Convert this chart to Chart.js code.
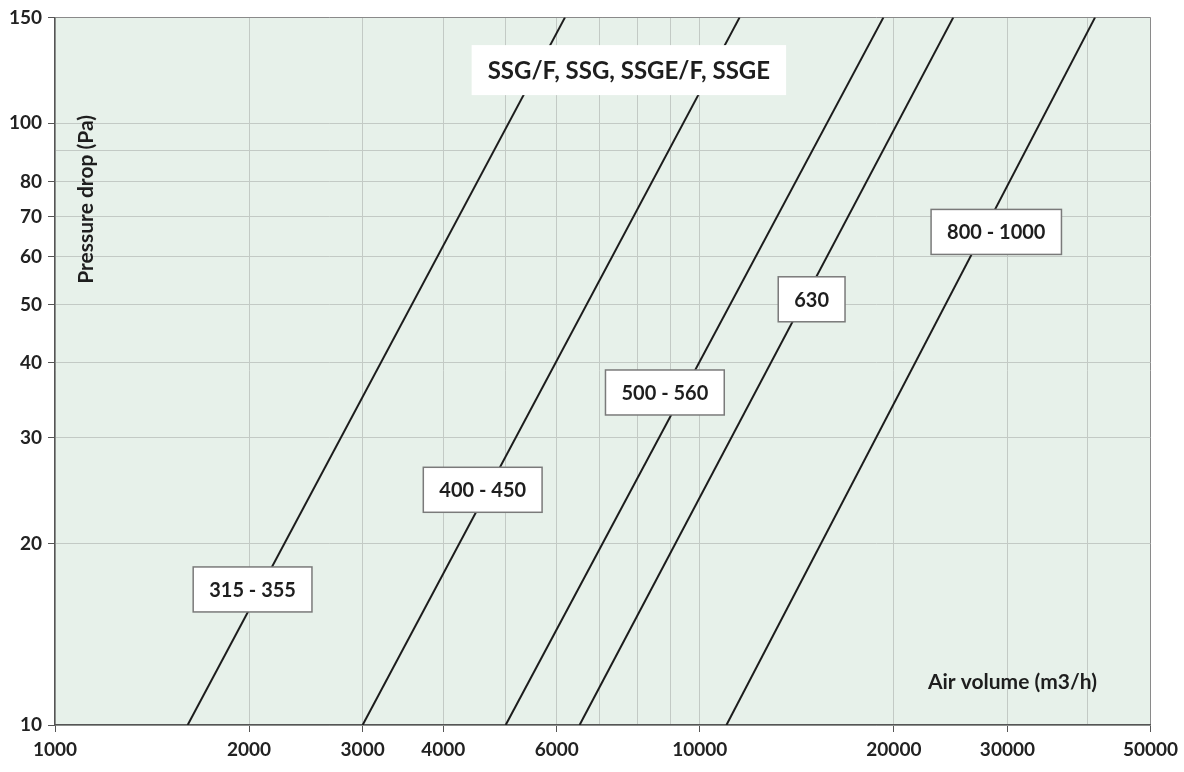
<!DOCTYPE html>
<html>
<head>
<meta charset="utf-8">
<title>Pressure drop SSG</title>
<script src="https://cdn.jsdelivr.net/npm/chart.js@4.4.1/dist/chart.umd.min.js"></script>
<style>
  body { margin: 0; background: #ffffff; }
  #wrap { position: relative; width: 1184px; height: 772px; }
</style>
</head>
<body>
<div id="wrap"><canvas id="graphCanvas"></canvas></div>
<script>
// sizes (curve names) and air volume (m3/h) where each line hits 10 Pa and 150 Pa
const seriesNames = ['315 - 355', '400 - 450', '500 - 560', '630', '800 - 1000'];
const flowAt10Pa = [1606, 3000, 5000, 6510, 11000];
const flowAt150Pa = [6180, 11530, 19270, 24730, 41030];
const pressureEnds = [10, 150];

// axis grid + labels
const xGridValues = [1000, 2000, 3000, 4000, 5000, 6000, 7000, 8000, 9000, 10000, 20000, 30000, 40000, 50000];
const xTickLabels = [1000, 2000, 3000, 4000, 6000, 10000, 20000, 30000, 50000];
const yGridValues = [10, 20, 30, 40, 50, 60, 70, 80, 90, 100, 150];
const yTickLabels = [10, 20, 30, 40, 50, 60, 70, 80, 100, 150];

const chartTitle = 'SSG/F, SSG, SSGE/F, SSGE';
const xTitle = 'Air volume (m3/h)';
const yTitle = 'Pressure drop (Pa)';

const FONT = 'Lato, "Open Sans", sans-serif';

const datasets = seriesNames.map((name, i) => ({
  label: name,
  data: [
    { x: flowAt10Pa[i], y: pressureEnds[0] },
    { x: flowAt150Pa[i], y: pressureEnds[1] },
  ],
  showLine: true,
  borderColor: '#1c1c1c',
  borderWidth: 2,
  pointRadius: 0,
}));

// label boxes, anchored in data coordinates (centre of box)
const boxes = [
  { text: seriesNames[0], x: 2025, y: 16.8 },
  { text: seriesNames[1], x: 4606, y: 24.6 },
  { text: seriesNames[2], x: 8828, y: 35.7 },
  { text: seriesNames[3], x: 14910, y: 51 },
  { text: seriesNames[4], x: 28830, y: 66 },
];

const plotBg = {
  id: 'plotBg',
  beforeDraw(chart) {
    const { ctx, chartArea: a } = chart;
    ctx.save();
    ctx.fillStyle = '#e7f1ea';
    ctx.fillRect(a.left, a.top, a.right - a.left, a.bottom - a.top);
    ctx.restore();
  },
};

const labelsPlugin = {
  id: 'labelsPlugin',
  afterDatasetsDraw(chart) {
    const { ctx, chartArea: a } = chart;
    const xs = chart.scales.x;
    const ys = chart.scales.y;
    ctx.save();
    ctx.textAlign = 'center';
    ctx.textBaseline = 'middle';

    // series boxes
    ctx.font = 'bold 20px ' + FONT;
    boxes.forEach((b) => {
      const cx = xs.getPixelForValue(b.x);
      const cy = ys.getPixelForValue(b.y);
      const w = ctx.measureText(b.text).width + 32;
      const h = 45;
      ctx.fillStyle = '#ffffff';
      ctx.fillRect(cx - w / 2, cy - h / 2, w, h);
      ctx.strokeStyle = '#7a7a7a';
      ctx.lineWidth = 1.5;
      ctx.strokeRect(cx - w / 2, cy - h / 2, w, h);
      ctx.fillStyle = '#1e1e1e';
      ctx.fillText(b.text, cx, cy + 1);
    });

    // title box (no border)
    ctx.font = 'bold 24px ' + FONT;
    const tx = xs.getPixelForValue(7763);
    const ty = ys.getPixelForValue(122.6);
    const tw = ctx.measureText(chartTitle).width + 32;
    ctx.fillStyle = '#ffffff';
    ctx.fillRect(tx - tw / 2, ty - 25, tw, 50);
    ctx.fillStyle = '#1e1e1e';
    ctx.fillText(chartTitle, tx, ty + 1);

    // axis titles inside the plot
    ctx.font = 'bold 21px ' + FONT;
    ctx.fillText(xTitle, a.right - 138, a.bottom - 43);
    ctx.translate(a.left + 31, a.top + 182);
    ctx.rotate(-Math.PI / 2);
    ctx.fillText(yTitle, 0, 0);
    ctx.restore();
  },
};

function setTicks(values) {
  return (scale) => {
    scale.ticks = values.map((v) => ({ value: v }));
  };
}

const ctx = document.getElementById('graphCanvas').getContext('2d');
new Chart(ctx, {
  type: 'scatter',
  data: { datasets: datasets },
  options: {
    responsive: true,
    maintainAspectRatio: false,
    animation: false,
    layout: { padding: { top: 15, right: 33, left: 0, bottom: 0 } },
    plugins: { legend: { display: false }, tooltip: { enabled: false } },
    scales: {
      x: {
        type: 'logarithmic',
        min: 1000,
        max: 50000,
        afterBuildTicks: setTicks(xGridValues),
        afterFit: (scale) => { scale.height = 47; },
        border: { color: '#555', width: 1.5 },
        grid: {
          color: (c) => (c.tick && c.tick.value === 50000 ? '#8a8a8a' : '#c3cac5'),
          tickColor: (c) => (c.tick && xTickLabels.includes(c.tick.value) ? '#555' : 'rgba(0,0,0,0)'),
          tickLength: 7,
        },
        ticks: {
          autoSkip: false,
          maxRotation: 0,
          padding: 6,
          color: '#222',
          font: { family: FONT, size: 19, weight: 'bold' },
          callback: (v) => (xTickLabels.includes(v) ? String(v) : ''),
        },
      },
      y: {
        type: 'logarithmic',
        min: 10,
        max: 150,
        afterBuildTicks: setTicks(yGridValues),
        afterFit: (scale) => { scale.width = 55; },
        border: { color: '#555', width: 1.5 },
        grid: {
          color: (c) => (c.tick && c.tick.value === 150 ? '#8a8a8a' : '#c3cac5'),
          tickColor: (c) => (c.tick && yTickLabels.includes(c.tick.value) ? '#555' : 'rgba(0,0,0,0)'),
          tickLength: 7,
        },
        ticks: {
          autoSkip: false,
          padding: 6,
          color: '#222',
          font: { family: FONT, size: 19, weight: 'bold' },
          callback: (v) => (yTickLabels.includes(v) ? String(v) : ''),
        },
      },
    },
  },
  plugins: [plotBg, labelsPlugin],
});
</script>
</body>
</html>
